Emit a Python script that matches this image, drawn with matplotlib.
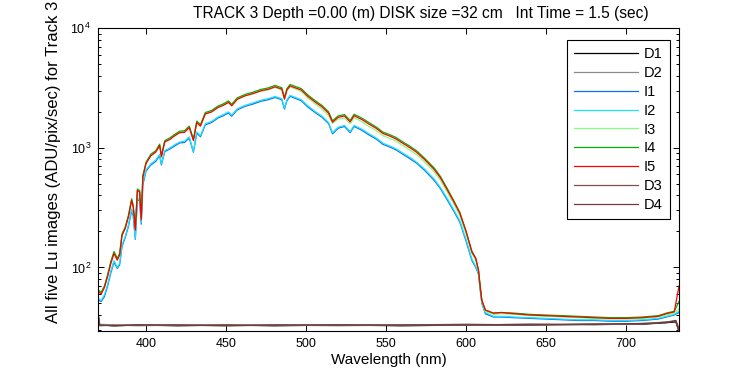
#imports
import matplotlib
matplotlib.use("Agg")
import matplotlib.pyplot as plt
from matplotlib.ticker import LogLocator, LogFormatterMathtext, NullFormatter

#data
wl = [370, 372, 374, 376, 378, 380, 382, 383.5, 385, 387, 389, 391,
      392, 393.3, 394.6, 396, 397, 398, 400, 403, 406, 408.5, 409.6, 411.7,
      415, 418, 421, 424, 427, 429.6, 431.7, 434, 437, 441, 445, 448,
      451.5, 453.5, 457, 462, 467, 472, 476, 480.6, 484.8, 486.5, 488, 490,
      494, 497, 501, 506, 510, 514, 516.5, 520, 524, 527.5, 530, 535,
      539, 544, 548, 552, 556, 561, 565, 569, 574, 580, 584, 588,
      592, 596, 600, 603.5, 606, 607.7, 608.8, 609.8, 612, 617, 622, 630,
      640, 650, 660, 670, 680, 690, 700, 710, 720, 725, 730, 733]

i1 = [53, 52, 57, 70, 90, 111, 98, 105, 150, 178, 220, 300,
      270, 172, 370, 360, 230, 490, 640, 720, 770, 860, 720, 930,
      980, 1040, 1100, 1110, 1210, 920, 1330, 1240, 1560, 1630, 1780, 1850,
      1960, 1840, 2080, 2230, 2330, 2460, 2520, 2640, 2530, 2110, 2480, 2700,
      2570, 2480, 2200, 1960, 1800, 1600, 1310, 1460, 1510, 1340, 1510, 1400,
      1290, 1180, 1070, 1020, 965, 875, 810, 745, 650, 535, 455, 370,
      300, 240, 165, 115, 100, 88, 64, 50, 41, 38.5, 38.5, 38,
      37.5, 37, 36.5, 36, 36, 35.5, 35.5, 36, 37, 38.5, 40, 42]

i2 = [55, 53, 59, 72, 93, 114, 100, 108, 154, 182, 226, 308,
      278, 175, 380, 368, 236, 505, 655, 735, 790, 880, 735, 950,
      1000, 1065, 1120, 1135, 1235, 935, 1360, 1265, 1590, 1665, 1815, 1890,
      2000, 1880, 2120, 2270, 2380, 2510, 2575, 2690, 2580, 2150, 2530, 2750,
      2620, 2530, 2250, 2000, 1840, 1630, 1340, 1490, 1540, 1370, 1540, 1430,
      1320, 1205, 1095, 1040, 985, 895, 830, 760, 665, 548, 465, 380,
      308, 246, 170, 118, 102, 90, 66, 51, 42, 39, 39, 38.5,
      38, 37.5, 37, 36.5, 36.5, 36, 36, 36.5, 37.5, 39, 40.5, 43]

i3 = [64, 61, 69, 86, 110, 133, 117, 129, 188, 215, 268, 368,
      324, 210, 445, 432, 255, 575, 745, 865, 925, 1050, 850, 1125,
      1185, 1270, 1345, 1355, 1485, 1160, 1635, 1525, 1925, 2005, 2185, 2265,
      2400, 2255, 2550, 2725, 2840, 2990, 3050, 3200, 3060, 2560, 3000, 3240,
      3080, 2960, 2620, 2320, 2110, 1870, 1600, 1740, 1780, 1590, 1790, 1650,
      1520, 1390, 1265, 1205, 1140, 1035, 955, 880, 765, 630, 535, 430,
      345, 270, 190, 132, 114, 92, 67, 52, 43, 40.5, 41, 40.5,
      39.5, 39, 38.5, 38, 37.5, 37, 37, 37.5, 38.5, 40, 41.5, 45]

i4 = [65, 62, 70, 87, 112, 136, 119, 131, 191, 218, 273, 375,
      330, 212, 452, 440, 258, 585, 760, 885, 945, 1075, 865, 1150,
      1215, 1300, 1380, 1390, 1520, 1185, 1675, 1565, 1975, 2055, 2240, 2325,
      2470, 2315, 2620, 2805, 2930, 3090, 3165, 3330, 3185, 2630, 3135, 3390,
      3235, 3130, 2775, 2465, 2260, 2005, 1685, 1850, 1900, 1695, 1910, 1770,
      1635, 1490, 1355, 1295, 1225, 1110, 1030, 945, 820, 680, 575, 462,
      368, 290, 198, 138, 119, 95, 68, 53, 44, 41.5, 42, 41.5,
      40.5, 40, 39.5, 39, 38.5, 38, 38, 38.5, 39.5, 41.5, 43, 52]

i5 = [63, 60, 68, 84, 108, 131, 115, 127, 185, 212, 265, 364,
      320, 205, 440, 427, 250, 570, 740, 860, 920, 1045, 840, 1120,
      1180, 1265, 1340, 1350, 1480, 1150, 1630, 1520, 1920, 2000, 2180, 2260,
      2400, 2250, 2550, 2730, 2850, 3010, 3080, 3240, 3100, 2560, 3050, 3300,
      3150, 3050, 2700, 2400, 2200, 1950, 1640, 1800, 1850, 1650, 1860, 1720,
      1590, 1450, 1320, 1260, 1190, 1080, 1000, 920, 800, 660, 560, 450,
      360, 285, 200, 135, 119, 95, 69, 53, 44, 41.5, 42, 41,
      40, 39.5, 39, 38.5, 38, 37.5, 37.5, 38, 39, 41, 42.5, 70]

# dark images
dwl = [370, 371, 380, 395, 420, 450, 480, 520, 560, 600, 640, 680, 710, 725, 731, 733]
d1 = [42, 33, 32.5, 33, 32.5, 33, 32.5, 33, 32.5, 33, 33, 33.5, 33.5, 34.5, 35, 29]
d2 = [41, 33.5, 33, 32.5, 33, 32.5, 33, 32.5, 33, 33, 33.5, 33, 34, 35, 36, 30]
d3 = [40, 32.5, 33, 33, 33, 33, 33, 33, 33, 33.5, 33, 33.5, 33.5, 35, 35.5, 31]
d4 = [41, 33, 32.5, 33, 33, 32.5, 33, 33, 33, 33, 33.5, 33.5, 34, 34.5, 36, 29]

#styles
plt.rcParams['font.family'] = ['Liberation Sans', 'DejaVu Sans']
series = [
    ("D1", dwl, d1, "#000000"),
    ("D2", dwl, d2, "#8c8c8c"),
    ("I1", wl, i1, "#0a72e6"),
    ("I2", wl, i2, "#1ee0ff"),
    ("I3", wl, i3, "#80ff80"),
    ("I4", wl, i4, "#00b400"),
    ("I5", wl, i5, "#ff0000"),
    ("D3", dwl, d3, "#7f5050"),
    ("D4", dwl, d4, "#6e3c3c"),
]

#plot
fig = plt.figure(figsize=(7.5, 3.75), dpi=100)
ax = fig.add_axes([0.1307, 0.1173, 0.7747, 0.8072])

for name, x, y, col in series:
    ax.plot(x, y, color=col, lw=0.9, label=name)

ax.set_yscale('log')
ax.set_xlim(370, 733)
ax.set_ylim(29.4, 1e4)
ax.set_xticks([400, 450, 500, 550, 600, 650, 700])
ax.yaxis.set_major_locator(LogLocator(base=10))
ax.yaxis.set_major_formatter(LogFormatterMathtext())
ax.yaxis.set_minor_locator(LogLocator(base=10, subs=range(2, 10)))
ax.yaxis.set_minor_formatter(NullFormatter())

ax.tick_params(which='both', direction='in', top=True, right=True, labelsize=9, width=0.7)
ax.tick_params(which='major', length=4, pad=5)
ax.tick_params(which='minor', length=2.2)
for s in ax.spines.values():
    s.set_linewidth(0.8)

ax.set_xlabel("Wavelength (nm)", fontsize=11, labelpad=2)
fig.text(53.5 / 750, 1 - 323 / 375, "All five Lu images (ADU/pix/sec) for Track 3",
         rotation=90, ha='center', va='bottom', fontsize=12)
fig.text(193 / 750, 1 - 18 / 375,
         "TRACK 3 Depth =0.00 (m) DISK size =32 cm   Int Time = 1.5 (sec)",
         ha='left', va='baseline', fontsize=11.2)

leg = ax.legend(loc='upper right', bbox_to_anchor=(0.9845, 0.9613), borderaxespad=0,
                fontsize=10.5, handlelength=4.4, handletextpad=0.4, labelspacing=0.33,
                borderpad=0.5, fancybox=False, framealpha=1, edgecolor='black')
leg.get_frame().set_linewidth(0.8)

fig.savefig("out.png", dpi=100)
